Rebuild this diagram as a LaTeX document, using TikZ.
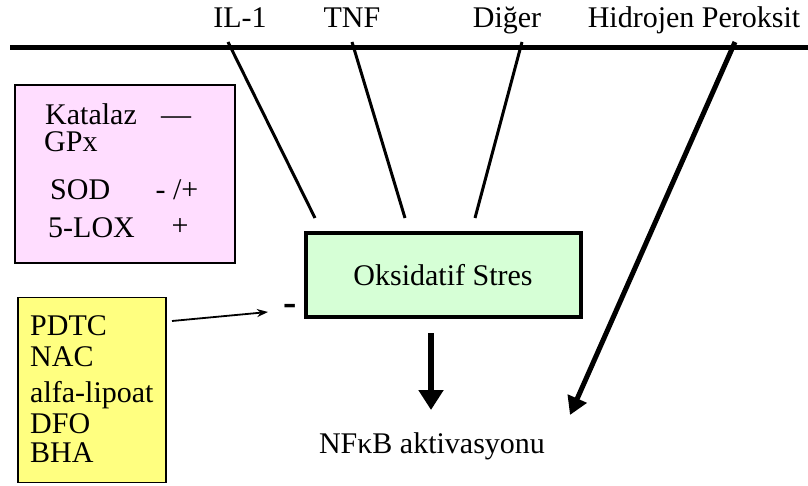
\documentclass[tikz,border=0pt]{standalone}
\usepackage{fontspec}
\setmainfont{Liberation Serif}
\usetikzlibrary{arrows.meta}
\definecolor{pinkbox}{HTML}{FFDDFF}
\definecolor{greenbox}{HTML}{D6FFD6}
\definecolor{yellowbox}{HTML}{FFFF80}
\begin{document}
\begin{tikzpicture}[x=1pt,y=-1pt,
  every node/.style={font=\fontsize{30}{32}\selectfont, inner sep=0pt},
  lbl/.style={anchor=base},
  feed/.style={line width=3pt},
  bigarrow/.style={line width=6pt, -{Triangle[length=20pt,width=24pt]}},
]
\useasboundingbox (0,0) rectangle (808,486);
% membrane
\coordinate (m1) at (10,48);
\coordinate (m2) at (808,48);
\draw[line width=5pt] (m1) -- (m2);
% top labels
\node[lbl] (il1) at (240,28) {IL-1};
\node[lbl] (tnf) at (352,28) {TNF};
\node[lbl] (diger) at (507,28) {Diğer};
\node[lbl] (h2o2) at (694,28) {Hidrojen Peroksit};
% boxes
\node[draw, line width=2pt, fill=pinkbox, minimum width=220pt, minimum height=178pt] (pink) at (125,174) {};
\node[draw, line width=4pt, fill=greenbox, minimum width=275pt, minimum height=84pt] (stress) at (443,275) {Oksidatif Stres};
\node[draw, line width=1.5pt, fill=yellowbox, minimum width=148pt, minimum height=185pt] (yellow) at (92,390) {};
% pink box text
\node[anchor=base west] (kat) at (45,125) {Katalaz};
\node[anchor=base west] (gpx) at (44,152) {GPx};
\node[anchor=base west] (sod) at (50,200) {SOD};
\node[anchor=base west] (lox) at (48,238) {5-LOX};
\node[anchor=base] (katsign) at (176,125) {—};
\node[anchor=base] (sodsign) at (177,200) {- /+};
\node[anchor=base] (loxsign) at (180,236) {+};
% yellow box text
\node[anchor=base west] (pdtc) at (30,335) {PDTC};
\node[anchor=base west] (nac) at (30,366) {NAC};
\node[anchor=base west] (alfa) at (30,402) {alfa-lipoat};
\node[anchor=base west] (dfo) at (30,433) {DFO};
\node[anchor=base west] (bha) at (30,462) {BHA};
% minus near stress
\node[font=\fontsize{40}{40}\selectfont\bfseries] (minus) at (290,310) {-};
% NFkB
\node[anchor=base] (nfkb) at (432,453) {NFκB aktivasyonu};
% feed lines
\coordinate (a1) at (228,42); \coordinate (a2) at (315,218);
\coordinate (b1) at (352,42); \coordinate (b2) at (405,218);
\coordinate (c1) at (522,42); \coordinate (c2) at (475,218);
\coordinate (d1) at (735,42); \coordinate (d2) at (570,415);
\draw[feed] (a1) -- (a2);
\draw[feed] (b1) -- (b2);
\draw[feed] (c1) -- (c2);
\draw[line width=5pt, -{Triangle[length=18pt,width=20pt]}] (d1) -- (d2);
% down arrow
\coordinate (e1) at (431,333);
\coordinate (e2) at (431,410);
\draw[bigarrow] (e1) -- (e2);
% inhibitor arrow
\coordinate (f1) at (172,321);
\coordinate (f2) at (268,312);
\draw[line width=1.8pt, -{Stealth[length=11pt,width=8pt]}] (f1) -- (f2);
\end{tikzpicture}
\end{document}
